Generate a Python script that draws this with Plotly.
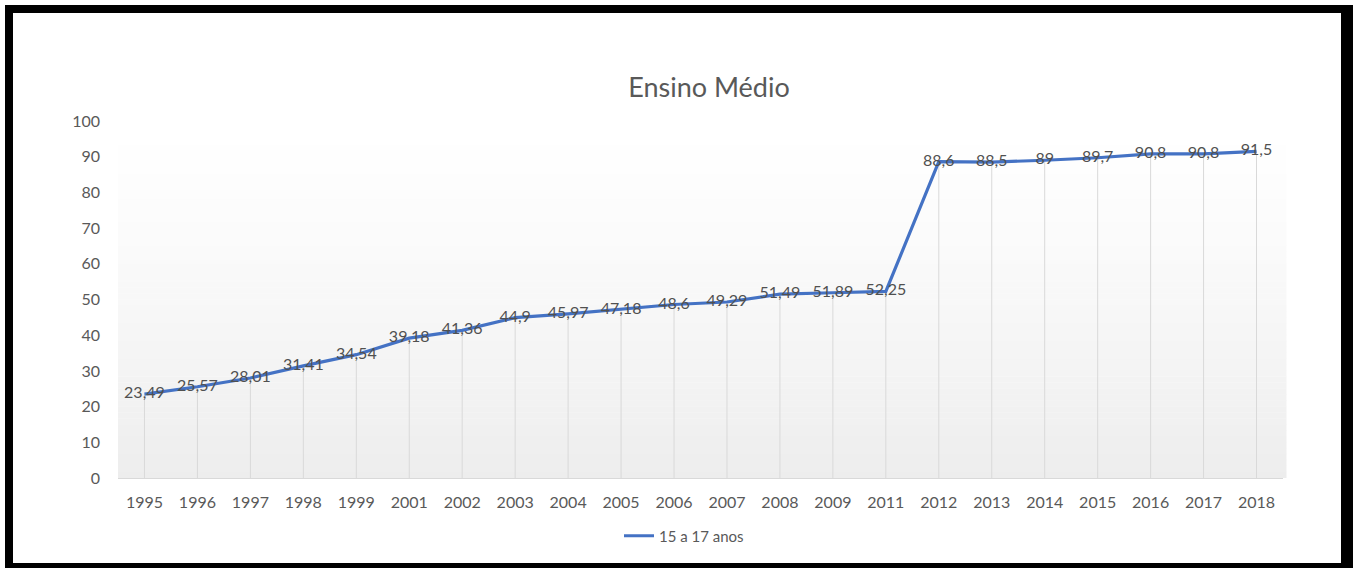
import plotly.graph_objects as go

years = ["1995", "1996", "1997", "1998", "1999", "2001", "2002", "2003", "2004", "2005", "2006",
         "2007", "2008", "2009", "2011", "2012", "2013", "2014", "2015", "2016", "2017", "2018"]
values = [23.49, 25.57, 28.01, 31.41, 34.54, 39.18, 41.36, 44.9, 45.97, 47.18, 48.6,
          49.29, 51.49, 51.89, 52.25, 88.6, 88.5, 89, 89.7, 90.8, 90.8, 91.5]
series_name = "15 a 17 anos"
title_text = "Ensino Médio"

W, H = 1353, 568
L, R, T, B = 118, 1283, 121, 478  # plot area in px
FONT = "Lato, sans-serif"


def px_x(p):
    return (p - L) / (R - L)


def px_y(p):
    return (B - p) / (B - T)


labels = [f"{v:g}".replace(".", ",") for v in values]

# drop lines from each point to the axis
dx, dy = [], []
for c, v in zip(years, values):
    dx += [c, c, None]
    dy += [0, v, None]

fig = go.Figure()
fig.add_trace(go.Scatter(x=dx, y=dy, mode="lines", line=dict(color="#d9d9d9", width=1),
                         hoverinfo="skip", showlegend=False))
fig.add_trace(go.Scatter(x=years, y=values, mode="lines+text", name=series_name,
                         line=dict(color="#4472C4", width=3.2),
                         text=labels, textposition="middle center",
                         textfont=dict(family=FONT, size=16, color="#505050")))

shapes = []
# gradient background for plot area
n = 60
for i in range(n):
    t0 = i / n
    t1 = (i + 1) / n
    f = 1 - (t0 + t1) / 2  # 1 at bottom
    g = int(round(255 - (255 - 237) * f ** 1.3))
    shapes.append(dict(type="rect", xref="paper", yref="paper", x0=0, x1=1.003, y0=t0, y1=t1 + 0.001,
                       fillcolor=f"rgb({g},{g},{g})", line=dict(width=0), layer="below"))
# black frame
frame = [(5, 5, 13, 563), (5, 5, 1353, 13), (1341, 5, 1353, 568), (5, 563, 1353, 568)]
for x0, y0, x1, y1 in frame:
    shapes.append(dict(type="rect", xref="paper", yref="paper",
                       x0=px_x(x0), x1=px_x(x1), y0=px_y(y1), y1=px_y(y0),
                       fillcolor="black", line=dict(width=0), layer="above"))

fig.update_layout(
    width=W, height=H,
    margin=dict(l=L, r=W - R, t=T, b=H - B),
    paper_bgcolor="white", plot_bgcolor="rgba(0,0,0,0)",
    title=dict(text=title_text, xref="container", x=709 / W, xanchor="center",
               y=1 - 88 / H, yanchor="middle",
               font=dict(family=FONT, size=27, color="#595959")),
    xaxis=dict(type="category", range=[-0.5, 21.5], showgrid=False, showline=True,
               linecolor="#d9d9d9", linewidth=1, ticks="", zeroline=False,
               ticklabelstandoff=10,
               tickfont=dict(family=FONT, size=16, color="#595959")),
    yaxis=dict(range=[0, 100], dtick=10, showgrid=False, zeroline=False, showline=False,
               ticks="", ticklen=0, ticklabelstandoff=17,
               tickfont=dict(family=FONT, size=16, color="#595959")),
    showlegend=True,
    legend=dict(orientation="h", x=px_x(684), xanchor="center", y=px_y(536), yanchor="middle",
                font=dict(family=FONT, size=15, color="#595959"),
                bgcolor="rgba(0,0,0,0)"),
    shapes=shapes,
)

fig.write_html("out.html")
